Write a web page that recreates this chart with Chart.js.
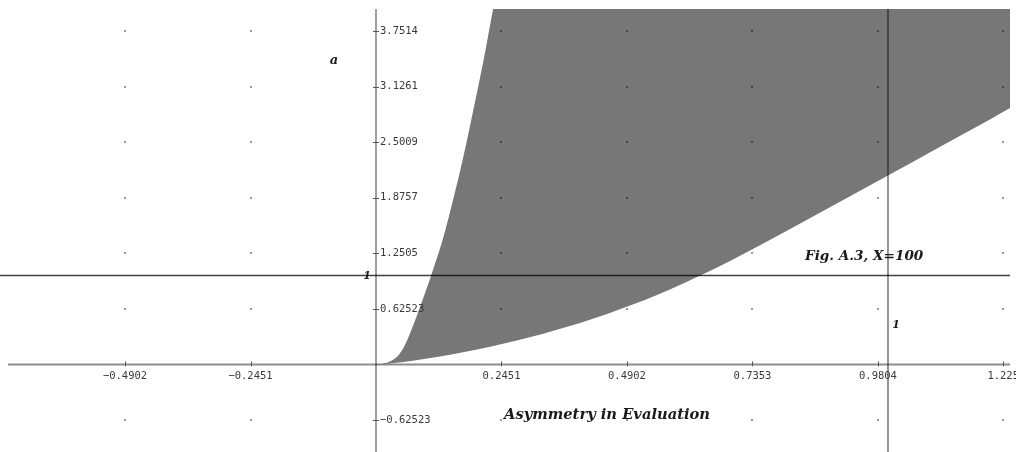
<!DOCTYPE html>
<html><head><meta charset="utf-8">
<script src="https://cdn.jsdelivr.net/npm/chart.js@4.4.1/dist/chart.umd.min.js"></script>
<style>html,body{margin:0;padding:0;background:#fff;} canvas{display:block;}</style>
</head><body>
<canvas id="c" width="1016" height="452"></canvas>
<script>
// Steep (left) boundary of the shaded region: asymmetry x vs a
const leftX = [0, 0.01, 0.02, 0.03, 0.04, 0.05, 0.06, 0.07, 0.08, 0.09, 0.10, 0.11, 0.13, 0.15, 0.17, 0.19, 0.21, 0.228, 0.234];
const leftA = [0, 0.004, 0.015, 0.04, 0.08, 0.15, 0.26, 0.40, 0.55, 0.71, 0.87, 1.04, 1.40, 1.84, 2.32, 2.86, 3.42, 3.98, 4.17];
// Lower boundary of the shaded region
const lowerX = [0, 0.05, 0.1, 0.15, 0.2, 0.25, 0.3, 0.35, 0.4, 0.45, 0.5, 0.55, 0.6, 0.65, 0.7, 0.8, 0.9, 1.0, 1.1, 1.2, 1.24];
const lowerA = [0, 0.025, 0.065, 0.115, 0.17, 0.235, 0.305, 0.385, 0.47, 0.565, 0.67, 0.785, 0.91, 1.045, 1.19, 1.495, 1.81, 2.125, 2.445, 2.76, 2.89];
// Tick labels
const xTickLabels = ['-0.4902', '-0.2451', '0.2451', '0.4902', '0.7353', '0.9804', '1.225'];
const yTickLabels = ['-0.62523', '0.62523', '1.2505', '1.8757', '2.5009', '3.1261', '3.7514'];
// Reference lines
const refLineA = 1;
const refLineX = 1;

const toPts = (xs, ys) => xs.map((v, i) => ({x: v, y: ys[i]}));

const overlay = {
  id: 'overlay',
  afterDatasetsDraw(chart) {
    const {ctx, chartArea: ca, scales: {x, y}} = chart;
    const xt = xTickLabels.map(parseFloat), yt = yTickLabels.map(parseFloat);
    const x0 = x.getPixelForValue(0), y0 = y.getPixelForValue(0);
    ctx.save();
    // grid dots
    ctx.fillStyle = 'rgba(0,0,0,0.4)';
    xt.forEach(xv => yt.forEach(yv => {
      const px = Math.round(x.getPixelForValue(xv)), py = Math.round(y.getPixelForValue(yv));
      ctx.fillRect(px - 1, py - 1, 2, 2);
    }));
    // axes
    ctx.strokeStyle = 'rgba(0,0,0,0.45)';
    ctx.lineWidth = 2;
    ctx.beginPath(); ctx.moveTo(ca.left, y0); ctx.lineTo(ca.right, y0); ctx.stroke();
    ctx.lineWidth = 1.5;
    ctx.strokeStyle = 'rgba(0,0,0,0.5)';
    ctx.beginPath(); ctx.moveTo(x0, ca.top); ctx.lineTo(x0, ca.bottom); ctx.stroke();
    // tick marks
    ctx.lineWidth = 1;
    ctx.strokeStyle = '#555';
    xt.forEach(v => { const px = Math.round(x.getPixelForValue(v)) + 0.5; ctx.beginPath(); ctx.moveTo(px, y0 - 3); ctx.lineTo(px, y0 + 2); ctx.stroke(); });
    yt.forEach(v => { const py = Math.round(y.getPixelForValue(v)) + 0.5; ctx.beginPath(); ctx.moveTo(x0 - 3, py); ctx.lineTo(x0 + 3, py); ctx.stroke(); });
    // reference lines
    ctx.strokeStyle = 'rgba(0,0,0,0.75)';
    ctx.lineWidth = 1.5;
    const pyRef = y.getPixelForValue(refLineA);
    ctx.beginPath(); ctx.moveTo(0, pyRef); ctx.lineTo(ca.right, pyRef); ctx.stroke();
    ctx.strokeStyle = 'rgba(0,0,0,0.42)';
    ctx.lineWidth = 2;
    const pxRef = x.getPixelForValue(refLineX);
    ctx.beginPath(); ctx.moveTo(pxRef, ca.top); ctx.lineTo(pxRef, ca.bottom); ctx.stroke();
    // tick labels
    ctx.fillStyle = '#3a3a3a';
    ctx.font = '10.5px "DejaVu Sans Mono"';
    ctx.textAlign = 'center'; ctx.textBaseline = 'middle';
    xTickLabels.forEach(l => ctx.fillText(l.replace('-', '\u2212'), x.getPixelForValue(parseFloat(l)), y0 + 12));
    ctx.textAlign = 'left';
    yTickLabels.forEach(l => ctx.fillText(l.replace('-', '\u2212'), x0 + 4, y.getPixelForValue(parseFloat(l))));
    // annotations
    ctx.fillStyle = '#1a1a1a';
    ctx.font = 'bold italic 14.7px "DejaVu Serif"';
    ctx.textAlign = 'center';
    ctx.fillText('Asymmetry in Evaluation', 607, 415);
    ctx.font = 'bold italic 13.6px "DejaVu Serif"';
    ctx.textAlign = 'left';
    ctx.fillText('Fig. A.3, X=100', 805, 256);
    ctx.font = 'bold italic 13px "DejaVu Serif"';
    ctx.textAlign = 'center';
    ctx.fillText('a', 334, 61);
    ctx.font = 'bold italic 11px "DejaVu Serif"';
    ctx.fillText('1', 367, 276);
    ctx.fillText('1', 896, 325);
    ctx.restore();
  }
};

new Chart(document.getElementById('c'), {
  type: 'line',
  data: {
    datasets: [
      {
        label: 'left boundary',
        data: toPts(leftX, leftA),
        borderWidth: 0, pointRadius: 0,
        cubicInterpolationMode: 'monotone',
        fill: 'end',
        backgroundColor: '#ffffff'
      },
      {
        label: 'lower boundary',
        data: toPts(lowerX, lowerA),
        borderWidth: 0, pointRadius: 0,
        cubicInterpolationMode: 'monotone',
        fill: 'end',
        backgroundColor: '#777777'
      }
    ]
  },
  options: {
    responsive: false,
    animation: false,
    devicePixelRatio: 1,
    layout: {padding: {left: 8, top: 9, right: 6, bottom: 0}},
    plugins: {legend: {display: false}, tooltip: {enabled: false}},
    scales: {
      x: {type: 'linear', min: -0.71875, max: 1.2383, display: false},
      y: {type: 'linear', min: -0.986, max: 4.0, display: false}
    }
  },
  plugins: [overlay]
});
</script>
</body></html>
